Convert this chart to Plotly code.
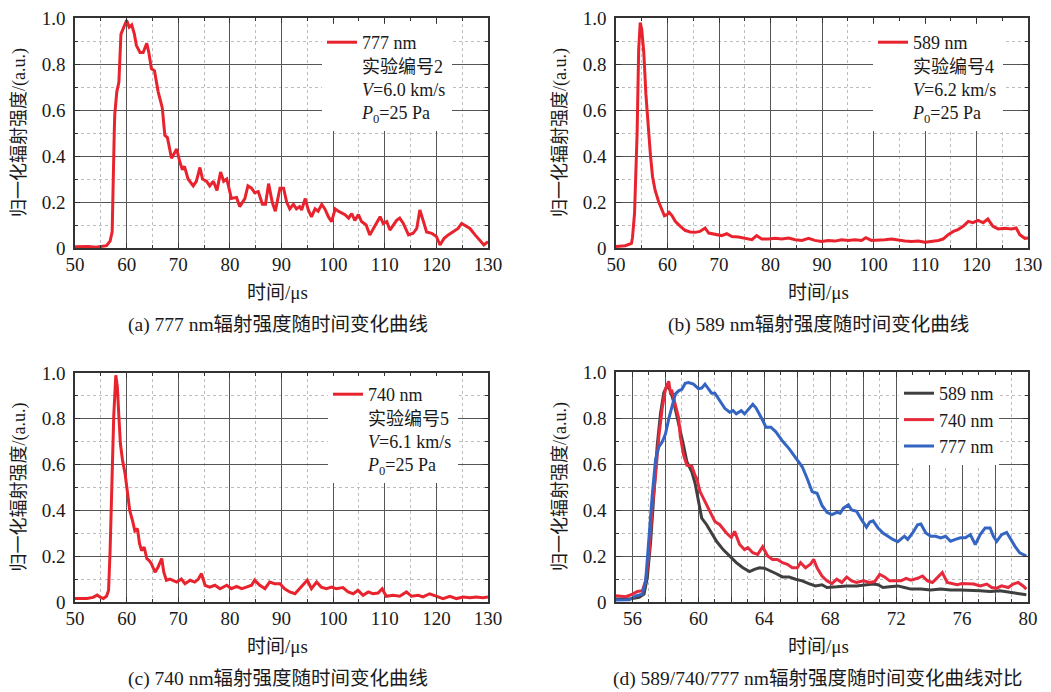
import plotly.graph_objects as go

# ---------------- data ----------------
# (a) 777 nm, experiment 2
t_a = [50.0, 52.6, 54.0, 56.1, 56.8, 57.2, 57.6, 57.7, 58.1, 58.5, 58.9, 59.5, 60.0, 60.5, 61.0,
       61.5, 61.9, 62.6, 63.2, 63.9, 64.3, 64.8, 65.4, 66.1, 66.9, 67.4, 67.9, 68.7, 69.7, 70.3,
       70.8, 71.2, 71.9, 72.9, 73.5, 74.2, 74.7, 75.5, 76.1, 76.8, 77.5, 78.2, 78.8, 79.4, 80.3,
       81.3, 81.9, 82.9, 83.5, 84.2, 84.8, 85.5, 86.3, 86.9, 87.5, 88.2, 88.8, 89.7, 90.4, 91.0,
       91.6, 92.3, 92.9, 93.5, 93.9, 94.6, 95.2, 95.8, 96.5, 97.1, 97.8, 98.4, 99.1, 99.7, 100.4,
       101.0, 101.7, 102.3, 103.0, 103.6, 104.2, 104.9, 105.5, 106.4, 107.1, 107.8, 108.4, 109.1,
       109.7, 110.4, 111.0, 111.7, 112.3, 112.9, 113.6, 114.6, 115.5, 116.2, 116.8, 117.5, 118.1,
       119.1, 120.0, 120.7, 121.5, 122.3, 123.3, 124.2, 124.9, 125.5, 126.5, 127.5, 128.4, 129.2, 130.0]
v_a = [0.005, 0.006, 0.003, 0.01, 0.03, 0.07, 0.50, 0.58, 0.68, 0.72, 0.93, 0.96, 0.99, 0.96, 0.97,
       0.93, 0.88, 0.85, 0.85, 0.89, 0.85, 0.78, 0.77, 0.68, 0.61, 0.49, 0.48, 0.39, 0.43, 0.375,
       0.34, 0.355, 0.30, 0.27, 0.29, 0.35, 0.30, 0.29, 0.27, 0.29, 0.25, 0.33, 0.29, 0.30, 0.215,
       0.22, 0.18, 0.215, 0.27, 0.26, 0.24, 0.245, 0.19, 0.19, 0.28, 0.20, 0.16, 0.26, 0.26, 0.20,
       0.17, 0.19, 0.17, 0.18, 0.165, 0.215, 0.165, 0.135, 0.17, 0.16, 0.19, 0.17, 0.135, 0.115, 0.17,
       0.16, 0.15, 0.145, 0.13, 0.15, 0.12, 0.145, 0.115, 0.10, 0.057, 0.085, 0.107, 0.136,
       0.107, 0.115, 0.078, 0.10, 0.12, 0.13, 0.107, 0.057, 0.064, 0.085, 0.165, 0.115, 0.07,
       0.064, 0.05, 0.013, 0.042, 0.057, 0.07, 0.085, 0.107, 0.10, 0.085, 0.057, 0.035, 0.013, 0.028]

# (b) 589 nm, experiment 4
t_b = [50.0, 51.8, 53.0, 53.2, 53.6, 54.1, 54.4, 54.7, 55.0, 55.4, 55.8, 56.2, 56.7, 57.1, 57.6,
       58.3, 58.9, 59.4, 59.9, 60.3, 60.9, 61.5, 62.5, 63.4, 64.4, 65.4, 66.3, 67.3, 68.0, 69.3,
       70.5, 71.5, 72.5, 73.8, 75.1, 76.4, 77.3, 78.3, 79.6, 80.9, 82.2, 83.5, 84.8, 86.1, 87.4,
       88.6, 89.9, 91.2, 92.5, 93.8, 95.1, 96.4, 97.7, 98.5, 99.6, 100.9, 102.2, 103.5, 104.8,
       106.1, 107.4, 108.7, 110.0, 111.3, 112.6, 113.5, 114.5, 115.5, 116.4, 117.4, 118.4, 119.3,
       120.3, 121.3, 122.2, 123.2, 124.2, 125.5, 126.8, 127.7, 128.4, 129.4, 130.0]
v_b = [0.007, 0.01, 0.02, 0.045, 0.15, 0.50, 0.86, 0.98, 0.95, 0.85, 0.67, 0.53, 0.40, 0.31, 0.25,
       0.20, 0.167, 0.14, 0.145, 0.155, 0.14, 0.116, 0.094, 0.077, 0.07, 0.068, 0.072, 0.087, 0.065, 0.058,
       0.054, 0.062, 0.05, 0.048, 0.043, 0.036, 0.054, 0.039, 0.039, 0.042, 0.039, 0.043, 0.036, 0.033, 0.042,
       0.033, 0.028, 0.033, 0.03, 0.036, 0.033, 0.036, 0.033, 0.045, 0.033, 0.033, 0.036, 0.039, 0.033,
       0.03, 0.028, 0.03, 0.025, 0.028, 0.033, 0.039, 0.058, 0.072, 0.08, 0.094, 0.116, 0.11,
       0.12, 0.11, 0.126, 0.094, 0.083, 0.086, 0.083, 0.087, 0.058, 0.042, 0.043]

# (c) 740 nm, experiment 5
t_c = [50.0, 52.3, 53.5, 54.3, 54.8, 55.5, 56.1, 56.5, 56.8, 57.2, 57.5, 57.9, 58.2, 58.5, 58.8,
       59.2, 59.7, 60.1, 60.6, 61.2, 61.6, 62.1, 62.5, 62.9, 63.4, 63.9, 64.4, 64.8, 65.5, 66.1,
       66.8, 67.2, 67.7, 68.4, 69.0, 69.7, 70.6, 71.3, 72.3, 73.2, 73.9, 74.5, 75.2, 76.1, 77.1,
       78.1, 79.4, 80.3, 81.3, 82.3, 83.2, 84.2, 84.8, 85.8, 86.8, 87.7, 88.7, 89.7, 90.6, 91.6,
       92.6, 93.5, 94.5, 95.0, 95.8, 96.8, 97.7, 98.7, 99.7, 100.6, 101.9, 102.9, 103.9, 104.8,
       105.8, 106.8, 107.7, 108.7, 109.5, 110.3, 111.6, 112.9, 114.2, 115.2, 116.5, 117.4, 118.7,
       120.0, 121.3, 122.6, 123.9, 125.2, 126.5, 127.7, 129.0, 130.0]
v_c = [0.015, 0.015, 0.02, 0.03, 0.022, 0.015, 0.025, 0.05, 0.225, 0.52, 0.81, 0.99, 0.94, 0.81, 0.69,
       0.62, 0.56, 0.49, 0.40, 0.35, 0.31, 0.32, 0.255, 0.225, 0.24, 0.19, 0.18, 0.167, 0.13, 0.153,
       0.19, 0.13, 0.095, 0.10, 0.095, 0.087, 0.10, 0.08, 0.095, 0.087, 0.10, 0.124, 0.073, 0.065, 0.073,
       0.058, 0.073, 0.058, 0.068, 0.058, 0.065, 0.073, 0.095, 0.073, 0.058, 0.087, 0.08, 0.08, 0.058, 0.044,
       0.036, 0.058, 0.08, 0.095, 0.058, 0.087, 0.065, 0.058, 0.065, 0.058, 0.063, 0.044, 0.036, 0.051,
       0.029, 0.044, 0.036, 0.039, 0.058, 0.025, 0.029, 0.025, 0.044, 0.025, 0.029, 0.022, 0.036,
       0.025, 0.015, 0.025, 0.015, 0.022, 0.019, 0.022, 0.019, 0.022]

# (d) comparison, 589 / 740 / 777 nm
t_d589 = [55.0, 55.8, 56.4, 56.7, 56.9, 57.1, 57.3, 57.5, 57.7, 57.9, 58.1, 58.3, 58.5, 58.7, 58.9,
          59.1, 59.3, 59.6, 59.8, 60.0, 60.2, 60.5, 60.8, 61.1, 61.5, 61.9, 62.3, 62.7, 63.1, 63.4,
          63.7, 64.0, 64.3, 64.7, 65.1, 65.5, 65.9, 66.3, 66.7, 67.1, 67.5, 67.8, 68.4, 69.0, 69.6,
          70.2, 70.6, 70.9, 71.2, 71.6, 72.1, 72.5, 72.9, 73.5, 74.1, 74.7, 75.3, 75.9, 76.5, 77.1,
          77.7, 78.3, 78.9, 79.4, 79.9]
v_d589 = [0.013, 0.013, 0.02, 0.034, 0.106, 0.26, 0.47, 0.68, 0.82, 0.91, 0.94, 0.92, 0.87, 0.81, 0.75,
          0.68, 0.61, 0.566, 0.516, 0.437, 0.365, 0.336, 0.30, 0.264, 0.228, 0.20, 0.171, 0.149, 0.132, 0.142,
          0.149, 0.147, 0.138, 0.124, 0.109, 0.109, 0.099, 0.092, 0.08, 0.07, 0.075, 0.063, 0.066, 0.07, 0.07,
          0.075, 0.078, 0.075, 0.063, 0.066, 0.07, 0.063, 0.056, 0.056, 0.052, 0.056, 0.052, 0.052, 0.052, 0.049,
          0.046, 0.049, 0.042, 0.037, 0.032]

t_d740 = [55.0, 55.6, 56.0, 56.3, 56.6, 56.8, 57.0, 57.2, 57.4, 57.6, 57.8, 58.0, 58.2, 58.3, 58.4,
          58.6, 58.8, 58.9, 59.1, 59.3, 59.6, 59.8, 59.9, 60.1, 60.4, 60.7, 61.0, 61.3, 61.7, 62.0,
          62.2, 62.5, 62.8, 63.0, 63.3, 63.6, 63.9, 64.2, 64.5, 64.8, 65.1, 65.4, 65.7, 66.0, 66.2,
          66.5, 66.8, 67.0, 67.2, 67.5, 67.8, 68.1, 68.4, 68.7, 69.0, 69.3, 69.6, 70.0, 70.4, 70.7,
          71.0, 71.3, 71.6, 71.9, 72.3, 72.6, 72.9, 73.3, 73.6, 73.9, 74.2, 74.5, 74.8, 75.1, 75.4,
          75.7, 76.0, 76.3, 76.7, 77.1, 77.5, 77.8, 78.1, 78.4, 78.8, 79.1, 79.4, 79.7, 79.9]
v_d740 = [0.027, 0.023, 0.034, 0.046, 0.049, 0.092, 0.207, 0.41, 0.55, 0.72, 0.84, 0.925, 0.96, 0.91, 0.915,
          0.853, 0.80, 0.72, 0.64, 0.595, 0.59, 0.55, 0.537, 0.48, 0.437, 0.394, 0.35, 0.336, 0.30, 0.28,
          0.307, 0.25, 0.228, 0.236, 0.214, 0.207, 0.24, 0.20, 0.185, 0.185, 0.171, 0.164, 0.149, 0.149, 0.171,
          0.149, 0.164, 0.185, 0.149, 0.113, 0.092, 0.08, 0.099, 0.085, 0.109, 0.092, 0.085, 0.092, 0.085, 0.089,
          0.12, 0.109, 0.092, 0.092, 0.092, 0.103, 0.095, 0.103, 0.113, 0.092, 0.085, 0.106, 0.128, 0.085, 0.08,
          0.075, 0.08, 0.078, 0.078, 0.07, 0.078, 0.063, 0.06, 0.07, 0.063, 0.078, 0.085, 0.07, 0.056]

t_d777 = [55.0, 55.8, 56.2, 56.6, 56.8, 57.0, 57.2, 57.4, 57.6, 57.8, 58.0, 58.2, 58.4, 58.6, 58.8,
          59.0, 59.2, 59.4, 59.7, 60.0, 60.2, 60.4, 60.6, 60.8, 61.0, 61.3, 61.6, 61.9, 62.1, 62.3,
          62.6, 62.8, 63.1, 63.3, 63.5, 63.7, 63.9, 64.1, 64.4, 64.7, 65.1, 65.5, 65.9, 66.3, 66.6,
          66.9, 67.2, 67.5, 67.8, 68.1, 68.4, 68.6, 68.8, 69.1, 69.3, 69.6, 69.9, 70.2, 70.4, 70.6,
          70.9, 71.2, 71.5, 71.8, 72.1, 72.3, 72.5, 72.7, 73.0, 73.3, 73.5, 73.8, 74.1, 74.4, 74.7,
          75.0, 75.3, 75.6, 75.9, 76.2, 76.5, 76.8, 77.1, 77.4, 77.7, 77.9, 78.1, 78.4, 78.7, 78.9,
          79.2, 79.5, 79.9]
v_d777 = [0.009, 0.01, 0.027, 0.034, 0.092, 0.29, 0.466, 0.62, 0.674, 0.695, 0.73, 0.796, 0.853, 0.904, 0.918,
          0.925, 0.951, 0.954, 0.947, 0.928, 0.93, 0.947, 0.928, 0.908, 0.908, 0.875, 0.842, 0.825, 0.832, 0.818,
          0.832, 0.818, 0.843, 0.86, 0.843, 0.818, 0.79, 0.76, 0.76, 0.74, 0.70, 0.667, 0.63, 0.588, 0.537,
          0.48, 0.473, 0.42, 0.39, 0.38, 0.39, 0.386, 0.408, 0.422, 0.40, 0.394, 0.358, 0.325, 0.348, 0.353,
          0.322, 0.30, 0.286, 0.272, 0.262, 0.272, 0.286, 0.272, 0.30, 0.336, 0.339, 0.30, 0.286, 0.286, 0.279,
          0.286, 0.264, 0.272, 0.279, 0.279, 0.293, 0.25, 0.293, 0.322, 0.322, 0.286, 0.264, 0.293, 0.303, 0.279,
          0.243, 0.214, 0.20]

# tick labels / texts
ytick_vals = [0, 0.2, 0.4, 0.6, 0.8, 1.0]
ytick_text = ["0", "0.2", "0.4", "0.6", "0.8", "1.0"]
xtick_vals_long = [50, 60, 70, 80, 90, 100, 110, 120, 130]

name_a = "777 nm<br>实验编号2<br><i>V</i>=6.0 km/s<br><i>P</i><sub>0</sub>=25 Pa"
name_b = "589 nm<br>实验编号4<br><i>V</i>=6.2 km/s<br><i>P</i><sub>0</sub>=25 Pa"
name_c = "740 nm<br>实验编号5<br><i>V</i>=6.1 km/s<br><i>P</i><sub>0</sub>=25 Pa"
captions = ["(a) 777 nm辐射强度随时间变化曲线", "(b) 589 nm辐射强度随时间变化曲线",
            "(c) 740 nm辐射强度随时间变化曲线", "(d) 589/740/777 nm辐射强度随时间变化曲线对比"]
xtitle = "时间/μs"
ytitle = "归一化辐射强度/(a.u.)"

# ---------------- layout helpers ----------------
W, H = 1051, 692
FONT = "Liberation Serif, 'Times New Roman', 'Noto Sans CJK SC', serif"
RED = "#e8232d"
RED_D = "#e62a3c"
BLUE = "#3565c2"
GRAY = "#3f3f3f"
TXT = "#1a1a1a"
MAJOR = "#555555"
MINOR = "#bdbdbd"


def px(x):
    return x / W


def py(y):
    return 1 - y / H


# plot boxes in pixels (left, right, top, bottom)
boxes = {
    1: (75, 488, 18, 248),
    2: (616, 1028, 18, 248),
    3: (75, 488, 373, 602),
    4: (616, 1028, 372, 602),
}


def common_axis(n):
    return dict(
        automargin=False,
        showgrid=True, gridcolor=MAJOR, gridwidth=1,
        ticks="inside", ticklen=5, tickcolor="#333", tickwidth=1,
        showline=True, linecolor="#333", linewidth=1.5, mirror="ticks",
        zeroline=False, tickfont=dict(size=19, color=TXT, family=FONT),
    )


def minor_cfg(t0, dt):
    return dict(tickmode="linear", tick0=t0, dtick=dt, showgrid=True,
                gridcolor=MINOR, griddash="dot", gridwidth=1, ticks="inside", ticklen=3,
                tickcolor="#333")


def xaxis_long(n):
    l, r, t, b = boxes[n]
    d = common_axis(n)
    d.update(domain=[px(l), px(r)], range=[50, 130], anchor="y" if n == 1 else f"y{n}",
             tickmode="array", tickvals=xtick_vals_long, ticktext=[str(v) for v in xtick_vals_long],
             minor=minor_cfg(50, 5), ticklabelstandoff=-2)
    return d


def xaxis_d():
    l, r, t, b = boxes[4]
    d = common_axis(4)
    # solid gridline every 2 us, label every 4 us, dotted every 1 us
    d.update(domain=[px(l), px(r)], range=[55, 80], anchor="y4",
             tickmode="linear", tick0=56, dtick=2, ticklabelstep=2,
             minor=minor_cfg(55, 1), ticklabelstandoff=-2)
    return d


def yaxis_cfg(n):
    l, r, t, b = boxes[n]
    d = common_axis(n)
    d.update(domain=[py(b), py(t)], range=[0, 1], anchor="x" if n == 1 else f"x{n}",
             tickmode="array", tickvals=ytick_vals, ticktext=ytick_text,
             minor=minor_cfg(0, 0.1), ticklabelstandoff=4)
    return d


def legend_cfg(left_px, top_px):
    return dict(
        x=px(left_px), y=py(top_px), xanchor="left", yanchor="top",
        bgcolor="white", borderwidth=0, valign="top",
        font=dict(size=18, color=TXT, family=FONT),
        itemclick=False, itemdoubleclick=False, tracegroupgap=0,
    )


fig = go.Figure()
LW = 3
fig.add_trace(go.Scatter(x=t_a, y=v_a, mode="lines", name=name_a, line=dict(color=RED, width=LW),
                         xaxis="x", yaxis="y", legend="legend"))
fig.add_trace(go.Scatter(x=t_b, y=v_b, mode="lines", name=name_b, line=dict(color=RED, width=LW),
                         xaxis="x2", yaxis="y2", legend="legend2"))
fig.add_trace(go.Scatter(x=t_c, y=v_c, mode="lines", name=name_c, line=dict(color=RED, width=LW),
                         xaxis="x3", yaxis="y3", legend="legend3"))
fig.add_trace(go.Scatter(x=t_d589, y=v_d589, mode="lines", name="589 nm", line=dict(color=GRAY, width=LW),
                         xaxis="x4", yaxis="y4", legend="legend4"))
fig.add_trace(go.Scatter(x=t_d740, y=v_d740, mode="lines", name="740 nm", line=dict(color=RED_D, width=LW),
                         xaxis="x4", yaxis="y4", legend="legend4"))
fig.add_trace(go.Scatter(x=t_d777, y=v_d777, mode="lines", name="777 nm", line=dict(color=BLUE, width=LW),
                         xaxis="x4", yaxis="y4", legend="legend4"))

annotations = []
for n in (1, 2, 3, 4):
    l, r, t, b = boxes[n]
    cx = (l + r) / 2
    cy = (t + b) / 2
    # x title
    annotations.append(dict(text=xtitle, x=px(cx - 4), y=py(b + 44), xref="paper", yref="paper",
                            showarrow=False, xanchor="center", yanchor="middle",
                            font=dict(size=19, color=TXT, family=FONT)))
    # y title
    annotations.append(dict(text=ytitle, x=px(l - 56), y=py(cy), xref="paper", yref="paper",
                            showarrow=False, xanchor="center", yanchor="middle", textangle=-90,
                            font=dict(size=18, color=TXT, family=FONT)))
    # caption
    annotations.append(dict(text=captions[n - 1], x=px(cx - 4), y=py(b + 77), xref="paper", yref="paper",
                            showarrow=False, xanchor="center", yanchor="middle",
                            font=dict(size=19.5, color=TXT, family=FONT)))

fig.update_layout(
    template="none",
    width=W, height=H,
    margin=dict(l=0, r=0, t=0, b=0, pad=0, autoexpand=False),
    paper_bgcolor="white", plot_bgcolor="white",
    font=dict(family=FONT, size=19, color=TXT),
    xaxis=xaxis_long(1), xaxis2=xaxis_long(2), xaxis3=xaxis_long(3), xaxis4=xaxis_d(),
    yaxis=yaxis_cfg(1), yaxis2=yaxis_cfg(2), yaxis3=yaxis_cfg(3), yaxis4=yaxis_cfg(4),
    legend=legend_cfg(322, 24),
    legend2=legend_cfg(873, 24),
    legend3=legend_cfg(328, 376),
    legend4=legend_cfg(899, 375),
    annotations=annotations,
    showlegend=True,
)

fig.write_html(
    "out.html",
    config={"displayModeBar": False},
    post_script="document.body.style.margin='0px';document.body.style.overflow='hidden';",
)
